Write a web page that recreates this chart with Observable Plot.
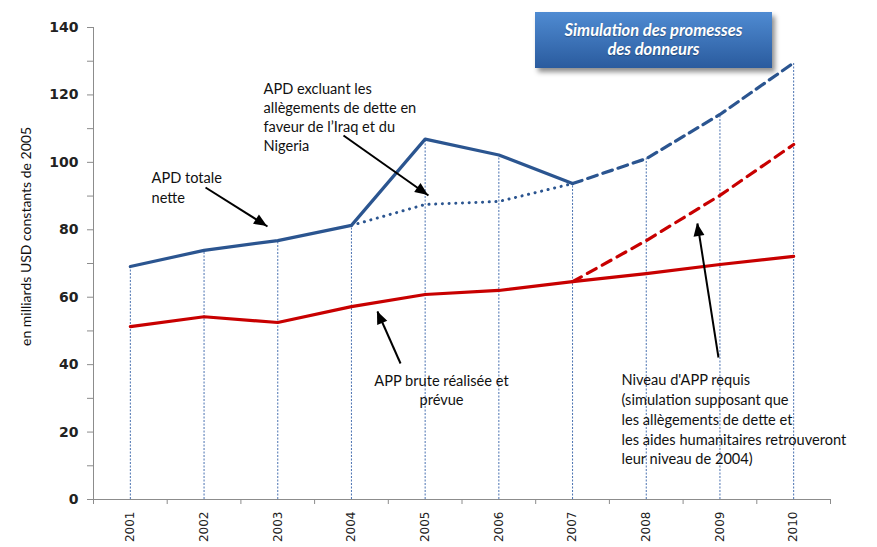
<!DOCTYPE html>
<html><head><meta charset="utf-8">
<script src="https://cdn.jsdelivr.net/npm/d3@7"></script>
<script src="https://cdn.jsdelivr.net/npm/@observablehq/plot@0.6"></script>
<style>
body{margin:0;background:#fff;}
#wrap{position:relative;width:877px;height:547px;overflow:hidden;background:#fff;}
#title{position:absolute;left:535px;top:12px;width:237px;height:56px;
 background:linear-gradient(#4f8bd2,#2a5b9e);box-shadow:3px 4px 5px rgba(0,0,0,0.45);
 color:#fff;font:italic bold 16.5px Lato, sans-serif;text-align:center;line-height:19px;
 box-sizing:border-box;padding-top:9px;text-shadow:0 1px 1px rgba(0,0,0,0.3);}
</style></head>
<body><div id="wrap"><div id="title">Simulation des promesses<br>des donneurs</div></div>
<script>
const years = [2001, 2002, 2003, 2004, 2005, 2006, 2007, 2008, 2009, 2010];
const apdTotale = [69.1, 73.9, 76.8, 81.3, 106.9, 102.2, 93.7];          // 2001-2007
const apdSimulation = [93.7, 101.1, 114.2, 129.5];                      // 2007-2010
const apdExclIraq = [81.3, 87.5, 88.4, 93.7];                           // 2004-2007
const appBrute = [51.3, 54.2, 52.5, 57.2, 60.8, 62.0, 64.6, 67.0, 69.7, 72.1];
const appRequis = [64.6, 76.8, 90.2, 105.3];                            // 2007-2010
const dropTop = [69.1, 73.9, 76.8, 81.3, 106.9, 102.2, 93.7, 101.1, 114.2, 129.5];
const yTicks = [0, 20, 40, 60, 80, 100, 120, 140];
const yMinor = [10, 30, 50, 70, 90, 110, 130];
const bandEdges = [2000.5, 2001.5, 2002.5, 2003.5, 2004.5, 2005.5, 2006.5, 2007.5, 2008.5, 2009.5, 2010.5];
const yLabel = "en milliards USD constants de 2005";

const noteTotale = [{x: 2001.287, y: 98.2, text: "APD totale\nnette"}];
const noteExcl = [{x: 2002.807, y: 124.3, text: "APD excluant les\nallègements de dette en\nfaveur de l’Iraq et du\nNigeria"}];
const noteBrute = [{x: 2005.222, y: 37.7, text: "APP brute réalisée et\nprévue"}];
const noteRequis = [{x: 2007.664, y: 37.97, text: "Niveau d'APP requis\n(simulation supposant que\nles allègements de dette et\nles aides humanitaires retrouveront\nleur niveau de 2004)"}];
const arrows = [
  {x1: 2002.020, y1: 92.54, x2: 2002.861, y2: 80.97},
  {x1: 2003.892, y1: 107.97, x2: 2005.045, y2: 90.17},
  {x1: 2004.666, y1: 40.34, x2: 2004.353, y2: 55.76},
  {x1: 2008.980, y1: 42.12, x2: 2008.695, y2: 81.86}
];

const blue = "#2b5590", red = "#c80000";
const seg = (xs, vs) => xs.map((x, i) => ({x, y: vs[i]}));
const noteFont = {fontFamily: "Lato", fontSize: 14.6, fill: "#111", lineAnchor: "top"};

const chart = Plot.plot({
  width: 877, height: 547,
  marginLeft: 93, marginRight: 47, marginTop: 27, marginBottom: 48,
  x: {domain: [2000.5, 2010.5]},
  y: {domain: [0, 140]},
  style: {fontFamily: "DejaVu Sans", background: "white", color: "#222"},
  marks: [
    Plot.ruleX(years, {x: d => d, y1: 0, y2: (d, i) => dropTop[i], stroke: "#3662a8", strokeWidth: 0.9, strokeDasharray: "2,1.5"}),
    Plot.axisY({ticks: yMinor, tickSize: 6, tickFormat: () => "", label: null, stroke: "#8c8c8c"}),
    Plot.axisY({ticks: yTicks, tickSize: 6, tickPadding: 9, fontWeight: "bold", fontSize: 14, label: null, stroke: "#8c8c8c"}),
    Plot.axisX({ticks: bandEdges, tickSize: 5, tickFormat: () => "", label: null, stroke: "#8c8c8c"}),
    Plot.axisX({ticks: years, tickSize: 0, tickPadding: 12, tickRotate: -90, tickFormat: d => String(d), fontSize: 12, label: null}),
    Plot.ruleX([2000.5], {y1: 0, y2: 140, stroke: "#8c8c8c"}),
    Plot.ruleY([0], {stroke: "#8c8c8c"}),
    Plot.text([yLabel], {text: d => d, frameAnchor: "left", textAnchor: "middle", dx: -67, dy: -27, rotate: -90, fontFamily: "Lato", fontSize: 14, fill: "#111"}),
    Plot.line(seg(years.slice(3, 7), apdExclIraq), {x: "x", y: "y", stroke: blue, strokeWidth: 3, strokeDasharray: "0.1,6.6", strokeLinecap: "round"}),
    Plot.line(seg(years.slice(6), apdSimulation), {x: "x", y: "y", stroke: blue, strokeWidth: 3.2, strokeDasharray: "10,6", strokeLinecap: "round"}),
    Plot.line(seg(years.slice(6), appRequis), {x: "x", y: "y", stroke: red, strokeWidth: 3.2, strokeDasharray: "10,7", strokeLinecap: "round"}),
    Plot.line(seg(years, appBrute), {x: "x", y: "y", stroke: red, strokeWidth: 3.2}),
    Plot.line(seg(years.slice(0, 7), apdTotale), {x: "x", y: "y", stroke: blue, strokeWidth: 3.2}),
    Plot.text(noteTotale, {x: "x", y: "y", text: "text", textAnchor: "start", lineHeight: 1.37, ...noteFont}),
    Plot.text(noteExcl, {x: "x", y: "y", text: "text", textAnchor: "start", lineHeight: 1.3, ...noteFont}),
    Plot.text(noteBrute, {x: "x", y: "y", text: "text", textAnchor: "middle", lineHeight: 1.3, ...noteFont}),
    Plot.text(noteRequis, {x: "x", y: "y", text: "text", textAnchor: "start", lineHeight: 1.35, ...noteFont}),
    Plot.link(arrows, {x1: "x1", y1: "y1", x2: "x2", y2: "y2", stroke: "#000", strokeWidth: 2})
  ]
});

// filled arrowheads placed with the chart's own scales
const sx = chart.scale("x"), sy = chart.scale("y");
const heads = d3.select(chart).append("g").attr("fill", "#000");
arrows.forEach(a => {
  const X1 = sx.apply(a.x1), Y1 = sy.apply(a.y1), X2 = sx.apply(a.x2), Y2 = sy.apply(a.y2);
  const dx = X2 - X1, dy = Y2 - Y1, L = Math.hypot(dx, dy), ux = dx / L, uy = dy / L;
  const hl = 13, hw = 5.5;
  const bx = X2 - ux * hl, by = Y2 - uy * hl;
  heads.append("path").attr("d", `M${X2},${Y2}L${bx - uy * hw},${by + ux * hw}L${bx + uy * hw},${by - ux * hw}Z`);
});

document.getElementById("wrap").prepend(chart);
chart.style.position = "absolute"; chart.style.left = "0"; chart.style.top = "0";
</script></body></html>
